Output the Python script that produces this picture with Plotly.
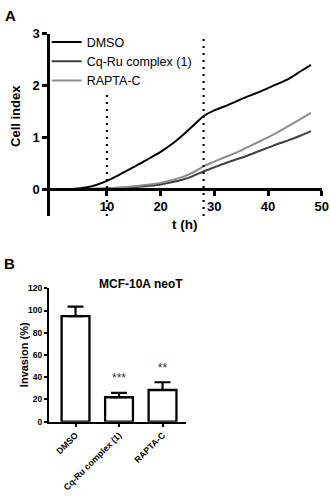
import plotly.graph_objects as go

FONT = "Liberation Sans"

# --- panel A: impedance curves ---
hours = [0, 2, 4, 6, 8, 10, 12, 14, 16, 18, 20, 22, 24, 26, 28, 30, 32, 34, 36, 38, 40, 42, 44, 46, 48]
dmso_ci = [0, 0, 0.005, 0.03, 0.08, 0.16, 0.26, 0.37, 0.48, 0.6, 0.72, 0.86, 1.03, 1.22, 1.41,
           1.52, 1.6, 1.69, 1.78, 1.86, 1.95, 2.04, 2.14, 2.27, 2.4]
cqru_ci = [0, 0, 0, 0, 0.005, 0.01, 0.02, 0.03, 0.045, 0.065, 0.09, 0.13, 0.18, 0.25, 0.34,
           0.42, 0.5, 0.57, 0.64, 0.72, 0.8, 0.88, 0.95, 1.03, 1.12]
rapta_ci = [0, 0, 0, 0.003, 0.008, 0.015, 0.03, 0.045, 0.065, 0.09, 0.12, 0.17, 0.23, 0.32, 0.44,
            0.53, 0.62, 0.7, 0.8, 0.9, 1.0, 1.11, 1.23, 1.35, 1.47]
series_names = ["DMSO", "Cq-Ru complex (1)", "RAPTA-C"]
series_colors = ["#000000", "#3f3f3f", "#8c8c8c"]

# treatment time markers (dotted lines)
marker_times = [10, 28]
marker_tops = [1.9, 3.0]

# --- panel B: invasion assay ---
groups = ["DMSO", "Cq-Ru complex (1)", "RAPTA-C"]
invasion = [95, 22, 28.5]
invasion_err = [8.5, 4, 7]
significance = ["", "***", "**"]

fig = go.Figure()

for name, ys, col in zip(series_names, [dmso_ci, cqru_ci, rapta_ci], series_colors):
    fig.add_trace(go.Scatter(
        x=hours, y=ys, name=name, mode="lines",
        line=dict(color=col, width=2, shape="spline", smoothing=0.6),
        xaxis="x", yaxis="y",
    ))

for t, top in zip(marker_times, marker_tops):
    fig.add_shape(type="line", xref="x", yref="y", x0=t, x1=t, y0=-0.52, y1=top,
                  line=dict(color="black", width=2.2, dash="2px,5px"))

fig.add_trace(go.Bar(
    x=groups, y=invasion, showlegend=False, width=0.64,
    marker=dict(color="white", line=dict(color="black", width=2.3)),
    error_y=dict(type="data", array=invasion_err, arrayminus=[0, 0, 0], symmetric=False,
                 thickness=2.2, width=8, color="black"),
    xaxis="x2", yaxis="y2",
))

fig.add_trace(go.Scatter(
    x=groups, y=[v + e + 12 for v, e in zip(invasion, invasion_err)],
    text=significance, mode="text", showlegend=False,
    textfont=dict(family=FONT, size=12, color="#333333"),
    xaxis="x2", yaxis="y2",
))

axis_common = dict(showline=True, linecolor="black", showgrid=False, zeroline=False,
                   ticks="outside", tickcolor="black", automargin=False)

fig.update_layout(
    template="none",
    width=331, height=496,
    margin=dict(l=0, r=0, t=0, b=0, autoexpand=False),
    paper_bgcolor="white", plot_bgcolor="white",
    font=dict(family=FONT, color="black"),
    showlegend=True,
    legend=dict(x=0.141, y=0.945, xanchor="left", yanchor="top",
                bgcolor="rgba(0,0,0,0)", font=dict(size=12.5), tracegroupgap=0),
    xaxis=dict(**axis_common, domain=[0.151, 0.972], range=[-0.6, 50],
               anchor="free", position=0.619, linewidth=2.5, tickwidth=2.5, ticklen=5,
               tickvals=[10, 20, 30, 40, 50],
               tickfont=dict(size=13, weight="bold")),
    yaxis=dict(**axis_common, domain=[0.5645, 0.932], range=[-0.52, 3], anchor="x",
               linewidth=2.5, tickwidth=2.5, ticklen=5, tickvals=[0, 1, 2, 3],
               tickfont=dict(size=13, weight="bold")),
    xaxis2=dict(**axis_common, domain=[0.148, 0.562], range=[-0.61, 2.54], anchor="y2",
                linewidth=2, tickwidth=1.5, ticklen=3, tickangle=-45,
                tickfont=dict(size=8.8, weight="bold")),
    yaxis2=dict(**axis_common, domain=[0.1498, 0.4188], range=[0, 120], anchor="x2",
                linewidth=2, tickwidth=1.5, ticklen=3, tickvals=[0, 20, 40, 60, 80, 100, 120],
                tickfont=dict(size=8.5, weight="bold")),
    annotations=[
        dict(text="<b>A</b>", x=0.008, y=0.99, xref="paper", yref="paper",
             xanchor="left", yanchor="top", showarrow=False, font=dict(size=15)),
        dict(text="<b>B</b>", x=0.005, y=0.49, xref="paper", yref="paper",
             xanchor="left", yanchor="top", showarrow=False, font=dict(size=15)),
        dict(text="<b>Cell index</b>", x=0.045, y=0.766, xref="paper", yref="paper",
             xanchor="center", yanchor="middle", textangle=-90, showarrow=False,
             font=dict(size=13)),
        dict(text="<b>t (h)</b>", x=0.556, y=0.548, xref="paper", yref="paper",
             xanchor="center", yanchor="middle", showarrow=False, font=dict(size=13.5)),
        dict(text="<b>Invasion (%)</b>", x=0.0725, y=0.286, xref="paper", yref="paper",
             xanchor="center", yanchor="middle", textangle=-90, showarrow=False,
             font=dict(size=11)),
        dict(text="<b>MCF-10A neoT</b>", x=0.426, y=0.427, xref="paper", yref="paper",
             xanchor="center", yanchor="middle", showarrow=False, font=dict(size=12)),
    ],
)

# the page's default body margin would shift the fixed-size plot by 8px
fig.write_html("out.html", config={"displayModeBar": False},
               post_script="document.body.style.margin='0';")
